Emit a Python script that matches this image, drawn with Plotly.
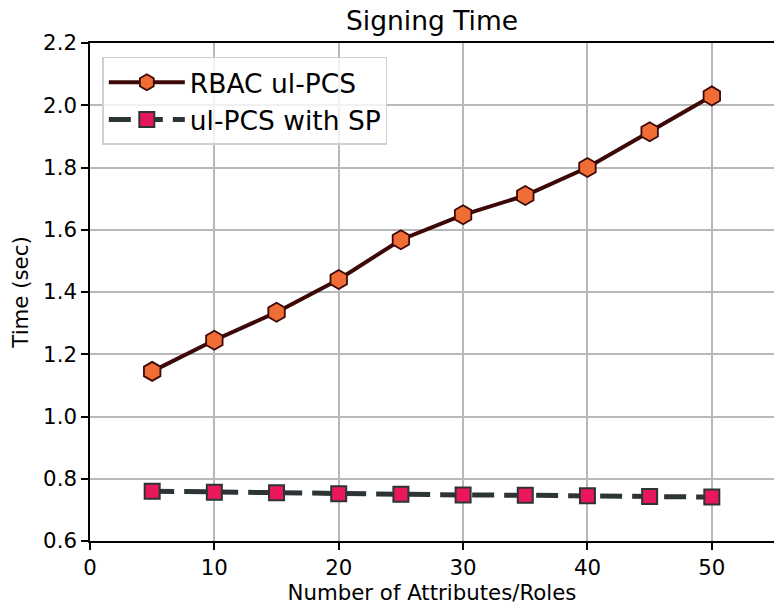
import plotly.graph_objects as go

x_vals = [5, 10, 15, 20, 25, 30, 35, 40, 45, 50]
rbac = [1.145, 1.245, 1.335, 1.44, 1.568, 1.648, 1.71, 1.80, 1.915, 2.03]
sp = [0.760, 0.757, 0.755, 0.752, 0.750, 0.748, 0.747, 0.745, 0.743, 0.741]
x_ticks = [0, 10, 20, 30, 40, 50]
y_ticks = [0.6, 0.8, 1.0, 1.2, 1.4, 1.6, 1.8, 2.0, 2.2]

fig = go.Figure()
fig.add_trace(go.Scatter(
    x=x_vals, y=rbac, name="RBAC ul-PCS", mode="lines+markers",
    line=dict(color="#3d0808", width=4),
    marker=dict(symbol="hexagon", size=19, color="#f06d35",
                line=dict(color="#3d0808", width=1.8)),
))
fig.add_trace(go.Scatter(
    x=x_vals, y=sp, name="ul-PCS with SP", mode="lines+markers",
    line=dict(color="#2d3436", width=5, dash="22px,10px"),
    marker=dict(symbol="square", size=15, color="#e8185a",
                line=dict(color="#2d3436", width=2)),
))

axis_common = dict(
    showline=True, linecolor="black", linewidth=1.5, mirror=True,
    ticks="outside", ticklen=7, tickwidth=1.5, tickcolor="black",
    showgrid=True, gridcolor="#b8b8b8", gridwidth=1.5,
    zeroline=False, automargin=False,
    tickfont=dict(family="DejaVu Sans", size=21.3, color="black"),
)

fig.update_layout(
    width=766, height=597,
    margin=dict(l=82, r=0, t=35, b=64),
    plot_bgcolor="white", paper_bgcolor="white",
    title=dict(text="Signing Time", x=0.5 * (82 + 766) / 766, xanchor="center", xref="container",
               y=1 - 3 / 597, yref="container", yanchor="top",
               font=dict(family="DejaVu Sans", size=26.5, color="black")),
    xaxis=dict(range=[0, 55], tickvals=x_ticks,
               title=dict(text="Number of Attributes/Roles", standoff=13,
                          font=dict(family="DejaVu Sans", size=21.3, color="black")),
               **axis_common),
    yaxis=dict(range=[0.6, 2.2], tickvals=y_ticks, tickformat=".1f",
               title=dict(text="Time (sec)", standoff=16,
                          font=dict(family="DejaVu Sans", size=21.3, color="black")),
               **axis_common),
    legend=dict(x=0.018, y=0.972, xanchor="left", yanchor="top",
                bgcolor="rgba(255,255,255,0.8)", bordercolor="#d0d0d0", borderwidth=1.5,
                font=dict(family="DejaVu Sans", size=26.5, color="black"),
                itemwidth=76),
    showlegend=True,
)

fig.write_html("out.html")
